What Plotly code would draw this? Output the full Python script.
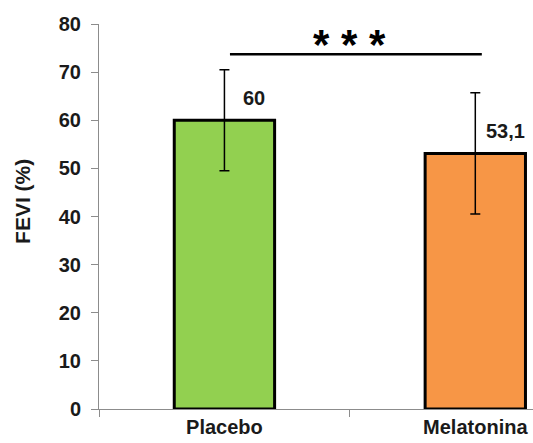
import plotly.graph_objects as go

# FEVI (%) by treatment group
groups = ["Placebo", "Melatonina"]
fevi_mean = [60.0, 53.1]
fevi_sd = [10.5, 12.6]
bar_colors = ["#92D050", "#F79646"]
value_labels = ["60", "53,1"]
significance = "* * *"
y_title = "FEVI (%)"

FONT = "Liberation Sans, Arial, sans-serif"
TEXT = "#1a1a1a"
AXIS_GRAY = "#8C8C8C"

fig = go.Figure()
fig.add_trace(go.Bar(
    x=groups,
    y=fevi_mean,
    width=0.4,
    marker=dict(color=bar_colors, line=dict(color="black", width=3)),
    error_y=dict(type="data", array=fevi_sd, visible=True,
                 color="black", thickness=1.5, width=5),
    showlegend=False,
))

# value labels to the upper right of each bar
for g, v, t in zip(groups, fevi_mean, value_labels):
    fig.add_annotation(x=g, y=v, text=t, showarrow=False,
                       xshift=30, yshift=22,
                       font=dict(family=FONT, size=20, color=TEXT, weight="bold"))

# significance bracket between the two groups
fig.add_shape(type="line", xref="x", yref="y",
              x0=0.022, x1=1.026, y0=73.7, y1=73.7,
              line=dict(color="black", width=2.5))
fig.add_annotation(x=0.5, y=75.8, xref="x", yref="y", text=significance,
                   showarrow=False,
                   font=dict(family=FONT, size=42, color="black", weight="bold"))

# rotated y-axis title
fig.add_annotation(x=-0.175, y=0.538, xref="paper", yref="paper",
                   text=y_title, textangle=-90, showarrow=False,
                   xanchor="center", yanchor="middle",
                   font=dict(family=FONT, size=21, color=TEXT, weight="bold"))

fig.update_layout(
    width=533, height=443,
    margin=dict(l=99, r=0, t=24, b=34),
    paper_bgcolor="white", plot_bgcolor="white",
    font=dict(family=FONT, size=20, color=TEXT),
)
fig.update_xaxes(
    range=[-0.5, 1.23],
    showline=True, linecolor=AXIS_GRAY, linewidth=1,
    ticks="outside", tickson="boundaries", ticklen=7, tickcolor=AXIS_GRAY,
    tickfont=dict(family=FONT, size=20, color=TEXT, weight="bold"),
    showgrid=False, zeroline=False,
)
fig.update_yaxes(
    range=[0, 80], dtick=10,
    showline=True, linecolor=AXIS_GRAY, linewidth=1,
    ticks="outside", ticklen=7, tickcolor=AXIS_GRAY,
    ticklabelstandoff=6,
    tickfont=dict(family=FONT, size=20, color=TEXT, weight="bold"),
    showgrid=False, zeroline=False,
)

fig.write_html("out.html")
